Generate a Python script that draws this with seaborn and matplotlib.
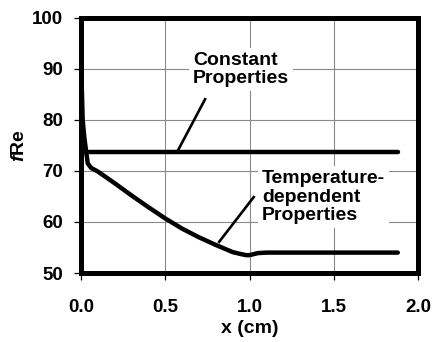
import matplotlib
matplotlib.use("Agg")
import matplotlib.pyplot as plt
import seaborn as sns
import pandas as pd

# Friction factor x Reynolds number along the channel
x_const = [0.01, 1.88]
fre_const = [73.7, 73.7]

x_temp = [0.0, 0.005, 0.01, 0.02, 0.03, 0.04, 0.06, 0.1, 0.2, 0.3, 0.4, 0.5,
          0.6, 0.7, 0.8, 0.9, 0.95, 0.98, 1.0, 1.05, 1.1, 1.5, 1.88]
fre_temp = [90.5, 86.0, 80.0, 76.5, 74.0, 71.5, 70.6, 69.9, 67.6, 65.2, 62.9, 60.7,
            58.7, 57.0, 55.5, 54.1, 53.7, 53.5, 53.5, 53.9, 54.0, 54.0, 54.0]

x_ticks = [0.0, 0.5, 1.0, 1.5, 2.0]
y_ticks = [50, 60, 70, 80, 90, 100]

sns.set_theme(style="white")
plt.rcParams["font.family"] = ["Liberation Sans", "DejaVu Sans"]
plt.rcParams["text.color"] = "black"
plt.rcParams["axes.labelcolor"] = "black"
plt.rcParams["xtick.color"] = "black"
plt.rcParams["ytick.color"] = "black"
plt.rcParams["mathtext.fontset"] = "custom"
plt.rcParams["mathtext.rm"] = "Liberation Sans:bold"
plt.rcParams["mathtext.bf"] = "Liberation Sans:bold"
plt.rcParams["mathtext.it"] = "Liberation Sans:italic:bold"
plt.rcParams["mathtext.bfit"] = "Liberation Sans:italic:bold"

fig = plt.figure(figsize=(4.38, 3.42), dpi=100)
ax = fig.add_axes([81 / 438, 69 / 342, 337 / 438, 255 / 342])

const_df = pd.DataFrame({"x": x_const, "fRe": fre_const})
temp_df = pd.DataFrame({"x": x_temp, "fRe": fre_temp})

line_kw = dict(color="black", linewidth=3.2, sort=False, estimator=None,
               solid_capstyle="round", solid_joinstyle="round", zorder=4)
sns.lineplot(data=const_df, x="x", y="fRe", ax=ax, **line_kw)
sns.lineplot(data=temp_df, x="x", y="fRe", ax=ax, **line_kw)

# Leader lines from the labels to the curves
ax.plot([0.74, 0.57], [84.3, 73.7], color="black", linewidth=1.9, zorder=3,
        solid_capstyle="butt")
ax.plot([1.03, 0.815], [65.1, 55.9], color="black", linewidth=1.9, zorder=3,
        solid_capstyle="butt")

label_kw = dict(fontsize=14, fontweight="bold", ha="left", va="center",
                linespacing=1.1, zorder=5, color="black",
                bbox=dict(facecolor="white", edgecolor="none", pad=3))
ax.text(0.665, 89.9, "Constant\nProperties", **label_kw)
ax.text(1.074, 64.9, "Temperature-\ndependent\nProperties", **label_kw)

ax.set_xlim(0, 2.0)
ax.set_ylim(50, 100)
ax.set_xticks(x_ticks)
ax.set_yticks(y_ticks)
ax.set_xticklabels([f"{v:.1f}" for v in x_ticks])
ax.set_yticklabels([str(v) for v in y_ticks])

ax.grid(True, color="#8a8a8a", linewidth=0.8)
ax.set_axisbelow(True)

for side in ["left", "right", "top", "bottom"]:
    sp = ax.spines[side]
    sp.set_visible(True)
    sp.set_color("black")
    sp.set_linewidth(3.6)
    sp.set_capstyle("projecting")
    sp.set_zorder(6)

ax.tick_params(axis="x", direction="out", length=5, width=0.9, color="black",
               labelcolor="black", pad=13.5, labelsize=13.5, bottom=True)
ax.tick_params(axis="y", direction="out", length=5, width=0.9, color="black",
               labelcolor="black", pad=8, labelsize=13.5, left=True)
for lab in ax.get_xticklabels() + ax.get_yticklabels():
    lab.set_fontweight("bold")

ax.set_xlabel("x (cm)", fontsize=14, fontweight="bold", labelpad=3, color="black")
ax.set_ylabel(r"$\mathbfit{f}$Re", fontsize=14, fontweight="bold", labelpad=3,
              color="black")

fig.savefig("out.png", dpi=100, facecolor="white")
